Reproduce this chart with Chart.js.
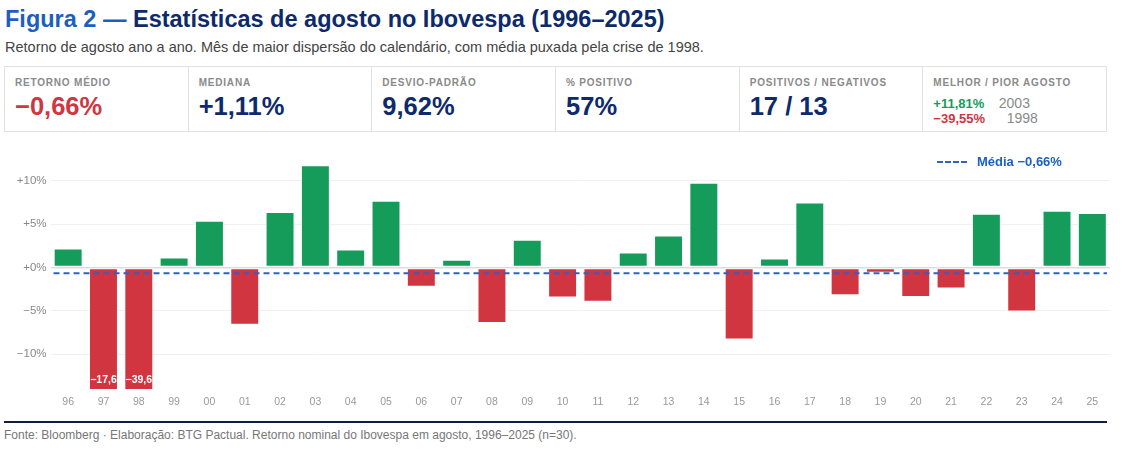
<!DOCTYPE html>
<html lang="pt-BR">
<head>
<meta charset="utf-8">
<script src="https://cdn.jsdelivr.net/npm/chart.js@4.4.1/dist/chart.umd.min.js"></script>
<style>
  body { margin: 0; background: #fff; font-family: "Liberation Sans", Arial, sans-serif; }
  .page { position: relative; width: 1122px; height: 451px; overflow: hidden; }
  h1 { position: absolute; left: 5px; top: 6px; margin: 0; font-size: 23.5px; font-weight: bold; color: #0d2a6b; white-space: nowrap; }
  h1 span { color: #1d5fc0; }
  .sub { position: absolute; left: 5px; top: 39px; font-size: 14.5px; color: #444; white-space: nowrap; }
  .stats { position: absolute; left: 4px; top: 66px; width: 1101px; height: 64px; border: 1px solid #e2e2e2; display: flex; }
  .stat { flex: 1; border-right: 1px solid #e2e2e2; padding: 10px 0 0 10px; box-sizing: border-box; }
  .stat:last-child { border-right: none; }
  .lbl { font-size: 10px; font-weight: bold; color: #8a8a8a; letter-spacing: 0.8px; }
  .val { font-size: 25.5px; font-weight: bold; color: #0d2a6b; margin-top: 4px; }
  .val.neg { color: #d13540; }
  .mm { font-size: 13px; margin-top: 8px; line-height: 15px; }
  .mm b.g { color: #169c5a; } .mm b.r { color: #d13540; }
  .mm span { color: #8a8a8a; font-size: 14px; }
  .chartbox { position: absolute; left: 0; top: 144px; width: 1110px; height: 268px; }
  .leg { position: absolute; left: 937px; top: 154px; font-size: 13px; font-weight: bold; color: #1d5fc0; white-space: nowrap; }
  .leg i { display: inline-block; width: 30px; border-top: 2px dashed #2f62c4; vertical-align: middle; margin-right: 10px; margin-top: -2px; }
  .rule { position: absolute; left: 4px; top: 421px; width: 1103px; height: 2px; background: #0d1f3c; }
  .foot { position: absolute; left: 4px; top: 428px; font-size: 12px; color: #777; white-space: nowrap; }
</style>
</head>
<body>
<div class="page">
  <h1><span>Figura 2 —</span> Estatísticas de agosto no Ibovespa (1996–2025)</h1>
  <div class="sub">Retorno de agosto ano a ano. Mês de maior dispersão do calendário, com média puxada pela crise de 1998.</div>
  <div class="stats">
    <div class="stat"><div class="lbl">RETORNO MÉDIO</div><div class="val neg">−0,66%</div></div>
    <div class="stat"><div class="lbl">MEDIANA</div><div class="val">+1,11%</div></div>
    <div class="stat"><div class="lbl">DESVIO-PADRÃO</div><div class="val">9,62%</div></div>
    <div class="stat"><div class="lbl">% POSITIVO</div><div class="val">57%</div></div>
    <div class="stat"><div class="lbl">POSITIVOS / NEGATIVOS</div><div class="val">17 / 13</div></div>
    <div class="stat"><div class="lbl">MELHOR / PIOR AGOSTO</div>
      <div class="mm"><b class="g">+11,81%</b>&nbsp;&nbsp;&nbsp;&nbsp;<span>2003</span><br><b class="r">−39,55%</b>&nbsp;&nbsp;&nbsp;&nbsp;&nbsp;&nbsp;<span>1998</span></div>
    </div>
  </div>
  <div class="chartbox"><canvas id="grafico"></canvas></div>
  <div class="leg"><i></i>Média −0,66%</div>
  <div class="rule"></div>
  <div class="foot">Fonte: Bloomberg · Elaboração: BTG Pactual. Retorno nominal do Ibovespa em agosto, 1996–2025 (n=30).</div>
</div>
<script>
// Dados: retorno de agosto (%) por ano
const anos = ['96','97','98','99','00','01','02','03','04','05','06','07','08','09','10',
              '11','12','13','14','15','16','17','18','19','20','21','22','23','24','25'];
const retornos = [2.2, -17.6, -39.55, 1.17, 5.4, -6.6, 6.4, 11.81, 2.1, 7.7, -2.2, 0.9, -6.4, 3.2, -3.45,
                  -3.95, 1.75, 3.7, 9.8, -8.3, 1.05, 7.5, -3.2, -0.6, -3.4, -2.4, 6.2, -5.05, 6.57, 6.3];
const media = -0.66;
const eixoMin = -14;
const eixoMax = 13;

const verde = '#169c5a';
const vermelho = '#d13540';

function fmtPct(v) {
    if (v < 0) return '−' + Math.abs(v) + '%';
    return '+' + v + '%';
}

// Linha da média atravessando a área do gráfico
const linhaMedia = {
    id: 'linhaMedia',
    afterDatasetsDraw(chart) {
        const { ctx, chartArea, scales } = chart;
        const y = scales.y.getPixelForValue(media);
        ctx.save();
        ctx.strokeStyle = '#2f62c4';
        ctx.lineWidth = 2;
        ctx.setLineDash([6, 4]);
        ctx.beginPath();
        ctx.moveTo(chartArea.left + 3, y);
        ctx.lineTo(chartArea.right - 3, y);
        ctx.stroke();
        ctx.restore();
    }
};

// Rótulos nas barras cortadas pelo eixo
const rotulosCortados = {
    id: 'rotulosCortados',
    afterDatasetsDraw(chart) {
        const { ctx } = chart;
        const meta = chart.getDatasetMeta(0);
        ctx.save();
        ctx.fillStyle = '#fff';
        ctx.font = 'bold 10.5px "Liberation Sans", Arial, sans-serif';
        ctx.textAlign = 'center';
        ctx.textBaseline = 'middle';
        retornos.forEach((v, i) => {
            if (v < eixoMin) {
                const bar = meta.data[i];
                const txt = '−' + (Math.abs(v) + 1e-9).toFixed(1).replace('.', ',');
                ctx.fillText(txt, bar.x, chart.chartArea.bottom - 9);
            }
        });
        ctx.restore();
    }
};

new Chart(document.getElementById('grafico'), {
    type: 'bar',
    data: {
        labels: anos,
        datasets: [{
            data: retornos,
            backgroundColor: retornos.map(v => v >= 0 ? verde : vermelho),
            borderColor: 'rgba(255,255,255,0.6)',
            borderWidth: 1,
            borderSkipped: false,
            categoryPercentage: 1,
            barPercentage: 0.82
        }]
    },
    options: {
        responsive: true,
        maintainAspectRatio: false,
        animation: false,
        layout: { padding: { top: 4, right: 0, left: 0, bottom: 0 } },
        plugins: {
            legend: { display: false },
            tooltip: { enabled: false }
        },
        scales: {
            x: {
                grid: { display: false, drawTicks: false },
                border: { display: false },
                ticks: {
                    color: '#999',
                    font: { size: 10.5, family: '"Liberation Sans", Arial, sans-serif' },
                    padding: 7,
                    maxRotation: 0
                },
                afterFit(scale) { scale.height = 23; }
            },
            y: {
                min: eixoMin,
                max: eixoMax,
                ticks: {
                    stepSize: 5,
                    color: '#888',
                    font: { size: 11.5, family: '"Liberation Sans", Arial, sans-serif' },
                    padding: 4,
                    callback: v => fmtPct(v)
                },
                afterBuildTicks(scale) {
                    scale.ticks = [-10, -5, 0, 5, 10].map(v => ({ value: v }));
                },
                afterFit(scale) { scale.width = 50.5; },
                grid: {
                    color: ctx => ctx.tick && ctx.tick.value === 0 ? '#d9dde3' : '#eef0f4',
                    lineWidth: ctx => ctx.tick && ctx.tick.value === 0 ? 1.5 : 1,
                    drawTicks: false
                },
                border: { display: false }
            }
        }
    },
    plugins: [linhaMedia, rotulosCortados]
});
</script>
</body>
</html>
